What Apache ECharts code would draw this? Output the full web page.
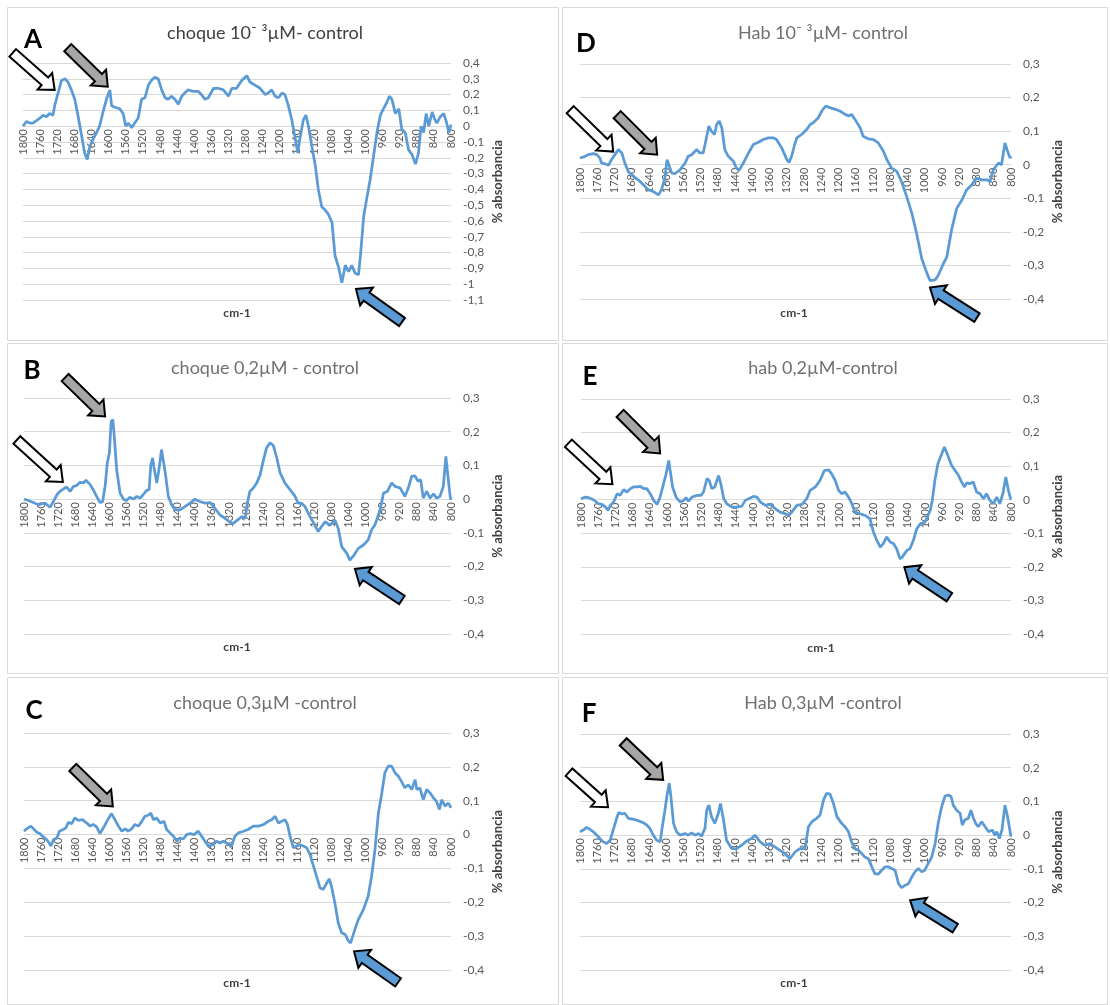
<!DOCTYPE html>
<html><head><meta charset="utf-8">
<script src="https://cdn.jsdelivr.net/npm/echarts@6/dist/echarts.min.js"></script>
<style>html,body{margin:0;padding:0;background:#fff;}#c{width:1110px;height:1005px;}</style>
</head><body><div id="c"></div>
<script>
// ---- data: [wavenumber cm-1, % absorbancia] ----
const choque1e3 = [[1800,0.00],[1792,0.03],[1784,0.02],[1777,0.02],[1761,0.05],[1753,0.07],[1745,0.06],[1738,0.08],[1730,0.07],[1726,0.13],[1720,0.19],[1714,0.25],[1710,0.29],[1702,0.30],[1695,0.28],[1687,0.23],[1679,0.17],[1671,0.06],[1663,-0.06],[1656,-0.17],[1650,-0.21],[1644,-0.13],[1636,-0.08],[1628,-0.04],[1621,0.00],[1613,0.09],[1605,0.17],[1597,0.23],[1593,0.13],[1585,0.12],[1574,0.11],[1566,0.08],[1560,0.00],[1554,0.02],[1546,-0.01],[1539,0.02],[1531,0.05],[1523,0.17],[1515,0.18],[1507,0.26],[1500,0.29],[1492,0.31],[1484,0.30],[1476,0.23],[1468,0.18],[1461,0.17],[1453,0.19],[1445,0.17],[1437,0.14],[1429,0.19],[1422,0.21],[1414,0.23],[1402,0.22],[1390,0.22],[1383,0.20],[1375,0.17],[1367,0.18],[1355,0.24],[1344,0.24],[1332,0.23],[1320,0.19],[1312,0.24],[1301,0.24],[1289,0.29],[1277,0.32],[1270,0.28],[1258,0.26],[1246,0.24],[1234,0.20],[1227,0.21],[1219,0.23],[1211,0.19],[1203,0.18],[1195,0.21],[1188,0.20],[1180,0.13],[1172,0.04],[1164,-0.08],[1158,-0.17],[1153,-0.08],[1145,0.04],[1139,0.07],[1133,0.00],[1125,-0.13],[1117,-0.25],[1110,-0.40],[1102,-0.51],[1094,-0.53],[1086,-0.56],[1078,-0.61],[1071,-0.82],[1063,-0.89],[1055,-0.99],[1047,-0.88],[1039,-0.92],[1032,-0.88],[1024,-0.93],[1016,-0.94],[1011,-0.80],[1004,-0.57],[997,-0.46],[989,-0.34],[981,-0.19],[973,-0.04],[965,0.07],[958,0.11],[950,0.15],[944,0.19],[938,0.17],[930,0.08],[922,0.11],[915,-0.02],[907,-0.04],[899,-0.15],[891,-0.18],[883,-0.24],[876,-0.17],[870,0.00],[864,-0.04],[858,0.08],[852,0.00],[844,0.09],[839,0.05],[833,0.02],[825,0.06],[817,0.08],[811,0.03],[805,-0.04],[800,0.01]];

const choque02 = [[1800,0.0],[1790,-0.004],[1778,-0.01],[1766,-0.017],[1759,-0.014],[1751,-0.012],[1739,-0.024],[1731,-0.007],[1723,0.013],[1716,0.023],[1708,0.03],[1700,0.036],[1692,0.023],[1684,0.038],[1677,0.04],[1669,0.05],[1661,0.048],[1655,0.056],[1645,0.043],[1638,0.028],[1630,0.008],[1622,-0.01],[1616,-0.008],[1610,0.038],[1605,0.107],[1600,0.137],[1596,0.23],[1592,0.236],[1588,0.177],[1583,0.087],[1575,0.018],[1567,0.0],[1560,-0.004],[1552,0.006],[1544,0.0],[1536,0.008],[1528,0.003],[1521,0.013],[1513,0.026],[1507,0.028],[1503,0.102],[1499,0.122],[1496,0.097],[1489,0.048],[1484,0.087],[1478,0.147],[1474,0.147],[1469,0.077],[1462,0.008],[1454,-0.017],[1446,-0.032],[1435,-0.032],[1423,-0.022],[1411,-0.012],[1400,0.0],[1388,-0.007],[1376,-0.012],[1364,-0.01],[1353,-0.027],[1341,-0.047],[1329,-0.057],[1319,-0.067],[1310,-0.072],[1298,-0.06],[1290,-0.052],[1282,-0.057],[1277,-0.012],[1271,0.023],[1263,0.033],[1255,0.048],[1247,0.072],[1240,0.112],[1232,0.152],[1224,0.167],[1216,0.159],[1208,0.122],[1200,0.077],[1189,0.048],[1177,0.028],[1165,0.008],[1158,-0.012],[1150,-0.012],[1142,-0.022],[1130,-0.052],[1119,-0.077],[1111,-0.096],[1103,-0.081],[1095,-0.067],[1083,-0.077],[1072,-0.062],[1064,-0.087],[1056,-0.141],[1044,-0.161],[1037,-0.181],[1027,-0.166],[1017,-0.146],[1005,-0.136],[994,-0.121],[986,-0.091],[978,-0.076],[966,-0.032],[958,0.018],[949,0.023],[939,0.048],[931,0.038],[919,0.033],[908,0.008],[900,0.033],[892,0.068],[884,0.068],[877,0.053],[871,0.058],[865,0.003],[857,0.023],[849,0.003],[841,0.016],[834,0.003],[826,0.008],[818,0.038],[812,0.127],[808,0.077],[802,0.008],[800,-0.002]];

const choque03 = [[1800,0.01],[1794,0.017],[1784,0.025],[1778,0.017],[1770,0.007],[1763,0.003],[1755,-0.007],[1747,-0.015],[1741,-0.025],[1737,-0.034],[1731,-0.015],[1723,-0.01],[1717,0.01],[1708,0.015],[1702,0.02],[1696,0.036],[1688,0.032],[1681,0.049],[1673,0.042],[1663,0.044],[1653,0.034],[1645,0.025],[1638,0.03],[1630,0.023],[1622,0.003],[1614,0.02],[1606,0.039],[1595,0.062],[1587,0.044],[1579,0.025],[1571,0.01],[1563,0.017],[1556,0.01],[1548,0.017],[1540,0.03],[1532,0.025],[1524,0.039],[1517,0.054],[1509,0.057],[1503,0.064],[1497,0.044],[1489,0.049],[1481,0.034],[1472,0.039],[1466,0.015],[1458,0.005],[1450,-0.005],[1442,-0.02],[1435,-0.01],[1427,-0.013],[1419,0.0],[1411,0.003],[1402,0.0],[1392,0.01],[1384,-0.005],[1376,-0.02],[1368,-0.034],[1357,-0.03],[1349,-0.02],[1341,-0.025],[1333,-0.02],[1325,-0.025],[1314,-0.034],[1306,-0.005],[1298,0.005],[1286,0.01],[1275,0.015],[1263,0.025],[1251,0.025],[1240,0.029],[1228,0.039],[1220,0.044],[1212,0.054],[1204,0.034],[1197,0.039],[1189,0.044],[1183,0.03],[1177,-0.005],[1169,-0.039],[1161,-0.034],[1154,-0.03],[1146,-0.034],[1138,-0.039],[1130,-0.059],[1122,-0.093],[1115,-0.123],[1107,-0.157],[1099,-0.162],[1091,-0.143],[1085,-0.131],[1080,-0.152],[1072,-0.202],[1064,-0.261],[1056,-0.29],[1048,-0.295],[1040,-0.315],[1035,-0.32],[1025,-0.28],[1017,-0.251],[1005,-0.221],[994,-0.182],[986,-0.123],[978,-0.044],[970,0.064],[962,0.123],[955,0.182],[947,0.202],[939,0.202],[931,0.182],[923,0.172],[916,0.157],[908,0.138],[900,0.147],[892,0.133],[884,0.162],[880,0.133],[873,0.138],[865,0.103],[857,0.133],[849,0.123],[841,0.108],[834,0.098],[827,0.074],[822,0.103],[814,0.084],[806,0.093],[800,0.079]];

const hab1e3 = [[1800,0.02],[1788,0.025],[1781,0.03],[1769,0.033],[1761,0.03],[1754,0.02],[1750,0.005],[1742,0.003],[1734,-0.002],[1727,0.015],[1719,0.03],[1711,0.045],[1703,0.035],[1696,0.005],[1688,-0.02],[1676,-0.035],[1665,-0.045],[1653,-0.06],[1641,-0.075],[1630,-0.08],[1618,-0.09],[1611,-0.075],[1603,-0.04],[1598,0.015],[1594,0.017],[1587,-0.025],[1580,-0.027],[1568,-0.015],[1556,0.005],[1549,0.025],[1541,0.03],[1529,0.045],[1522,0.035],[1514,0.035],[1506,0.085],[1501,0.115],[1495,0.10],[1488,0.09],[1483,0.12],[1477,0.13],[1471,0.11],[1464,0.045],[1456,0.025],[1444,0.01],[1437,-0.01],[1431,-0.017],[1421,0.005],[1409,0.035],[1398,0.06],[1386,0.067],[1375,0.075],[1363,0.08],[1351,0.08],[1344,0.075],[1332,0.05],[1320,0.015],[1315,0.007],[1309,0.025],[1303,0.055],[1297,0.08],[1286,0.09],[1274,0.105],[1266,0.12],[1259,0.125],[1247,0.14],[1239,0.16],[1230,0.175],[1220,0.17],[1208,0.165],[1197,0.16],[1185,0.15],[1177,0.145],[1170,0.15],[1162,0.135],[1150,0.11],[1143,0.085],[1131,0.077],[1119,0.075],[1108,0.065],[1096,0.04],[1088,0.015],[1077,-0.01],[1065,-0.02],[1054,-0.05],[1042,-0.095],[1030,-0.145],[1019,-0.205],[1007,-0.28],[996,-0.32],[988,-0.345],[976,-0.343],[969,-0.33],[957,-0.295],[949,-0.275],[938,-0.195],[926,-0.13],[914,-0.105],[903,-0.075],[891,-0.06],[880,-0.04],[868,-0.045],[856,-0.045],[849,-0.05],[841,-0.015],[829,0.005],[822,0.0],[814,0.065],[808,0.04],[802,0.02],[800,0.025]];

const hab02 = [[1800,0.003],[1790,0.008],[1782,0.006],[1771,0.0],[1759,-0.012],[1751,-0.014],[1743,-0.022],[1737,-0.032],[1732,-0.017],[1724,-0.007],[1716,0.018],[1709,0.013],[1701,0.03],[1693,0.023],[1685,0.033],[1678,0.038],[1670,0.038],[1662,0.04],[1654,0.033],[1647,0.033],[1639,0.018],[1631,-0.002],[1623,-0.014],[1616,0.008],[1608,0.048],[1602,0.077],[1596,0.117],[1592,0.112],[1587,0.038],[1579,0.008],[1569,-0.007],[1561,-0.002],[1556,0.006],[1550,-0.004],[1542,0.008],[1530,0.013],[1521,0.013],[1515,0.023],[1511,0.018],[1507,0.063],[1502,0.058],[1496,0.033],[1489,0.038],[1480,0.072],[1475,0.048],[1468,0.003],[1461,-0.012],[1449,-0.022],[1438,-0.022],[1426,-0.019],[1418,-0.002],[1410,0.003],[1399,0.01],[1391,0.008],[1383,-0.007],[1371,-0.017],[1360,-0.014],[1348,-0.027],[1337,-0.037],[1325,-0.042],[1317,-0.047],[1310,-0.037],[1298,-0.017],[1286,-0.014],[1275,0.003],[1267,0.028],[1255,0.038],[1244,0.058],[1234,0.087],[1224,0.089],[1217,0.077],[1209,0.058],[1201,0.028],[1194,0.018],[1186,0.023],[1178,0.008],[1170,-0.012],[1163,-0.037],[1151,-0.042],[1139,-0.047],[1128,-0.057],[1120,-0.096],[1112,-0.121],[1104,-0.141],[1097,-0.131],[1089,-0.111],[1081,-0.126],[1073,-0.131],[1066,-0.146],[1058,-0.176],[1053,-0.171],[1042,-0.151],[1035,-0.146],[1027,-0.121],[1019,-0.086],[1011,-0.072],[1000,-0.067],[988,-0.032],[983,-0.002],[977,0.058],[970,0.107],[961,0.137],[955,0.157],[947,0.132],[938,0.102],[930,0.087],[922,0.072],[915,0.053],[908,0.038],[903,0.05],[895,0.048],[888,0.053],[880,0.023],[872,0.018],[864,0.003],[857,0.018],[849,-0.002],[841,-0.012],[833,0.008],[826,-0.012],[818,0.023],[812,0.068],[806,0.028],[801,0.003],[800,0.0]];

const hab03 = [[1800,0.01],[1792,0.015],[1785,0.023],[1777,0.017],[1769,0.01],[1761,0.0],[1754,-0.01],[1746,-0.02],[1738,-0.025],[1730,-0.015],[1723,0.015],[1715,0.05],[1710,0.067],[1703,0.063],[1696,0.065],[1688,0.05],[1676,0.047],[1665,0.043],[1653,0.037],[1645,0.03],[1638,0.02],[1630,0.0],[1622,-0.015],[1614,-0.02],[1609,0.025],[1603,0.074],[1598,0.119],[1593,0.154],[1589,0.114],[1583,0.035],[1576,0.01],[1568,0.0],[1556,0.005],[1549,0.0],[1541,0.007],[1533,0.0],[1525,0.005],[1518,-0.003],[1510,0.02],[1506,0.074],[1501,0.089],[1495,0.055],[1487,0.035],[1479,0.065],[1474,0.094],[1467,0.045],[1460,-0.015],[1448,-0.04],[1437,-0.04],[1425,-0.03],[1413,-0.017],[1402,-0.01],[1394,0.0],[1382,-0.02],[1371,-0.03],[1359,-0.025],[1348,-0.035],[1336,-0.045],[1324,-0.055],[1313,-0.07],[1301,-0.05],[1290,-0.04],[1278,-0.04],[1270,0.025],[1262,0.04],[1251,0.05],[1243,0.06],[1235,0.104],[1228,0.124],[1220,0.122],[1212,0.094],[1204,0.055],[1193,0.035],[1185,0.025],[1177,0.01],[1170,-0.02],[1162,-0.04],[1154,-0.045],[1146,-0.055],[1139,-0.065],[1131,-0.07],[1123,-0.094],[1116,-0.114],[1108,-0.116],[1100,-0.104],[1092,-0.094],[1085,-0.094],[1077,-0.099],[1069,-0.104],[1061,-0.144],[1054,-0.156],[1046,-0.149],[1038,-0.144],[1030,-0.124],[1023,-0.109],[1015,-0.099],[1007,-0.109],[1000,-0.104],[992,-0.084],[984,-0.065],[976,-0.025],[969,0.035],[961,0.084],[953,0.116],[945,0.119],[939,0.114],[934,0.089],[926,0.074],[918,0.065],[913,0.03],[907,0.045],[899,0.05],[893,0.074],[887,0.05],[882,0.035],[876,0.025],[868,0.04],[860,0.025],[852,0.01],[843,0.015],[838,0.0],[833,0.01],[827,-0.01],[821,0.015],[814,0.089],[808,0.055],[802,0.01],[800,-0.005]];

const panelTitles = ['choque 10\u207B \u00B3\u00B5M- control','choque 0,2\u00B5M - control','choque 0,3\u00B5M -control','Hab 10\u207B \u00B3\u00B5M- control','hab 0,2\u00B5M-control','Hab 0,3\u00B5M -control'];
const panelLetters = ['A','B','C','D','E','F'];
const panelSeries = [choque1e3, choque02, choque03, hab1e3, hab02, hab03];
const yMins = [-1.1,-0.4,-0.4,-0.4,-0.4,-0.4];
const yMaxs = [0.4,0.3,0.3,0.3,0.3,0.3];
const xMin = 800, xMax = 1800, xStep = 40, yStep = 0.1;
const xName = 'cm-1', yName = '% absorbancia';

// ---- layout (pixels) ----
const layout = [
  {grid:[23,63,428,237],  box:[7,7,551,333],   title:[265,33],  letter:[33,40],  xname:[237,313], titleColor:'#404040'},
  {grid:[24,398,427,236], box:[7,343,551,330], title:[265,368], letter:[32,371], xname:[237,647], titleColor:'#707070'},
  {grid:[24,733,427,237], box:[7,677,551,327], title:[265,703], letter:[34,711], xname:[237,983], titleColor:'#707070'},
  {grid:[580,64,431,235], box:[562,7,545,333], title:[823,33],  letter:[586,44], xname:[794,313], titleColor:'#707070'},
  {grid:[581,399,430,235],box:[562,343,545,330],title:[823,368],letter:[590,377],xname:[821,648], titleColor:'#707070'},
  {grid:[580,734,431,236],box:[562,677,545,327],title:[823,703],letter:[589,714],xname:[794,983], titleColor:'#707070'}
];
// arrows: panel index, fill, tip in data coords, tail offset in px
const arrows = [
  {p:0,f:'#fff',tip:[1726,0.23],off:[-42,-37]},{p:0,f:'#a6a6a6',tip:[1602,0.25],off:[-40,-39]},{p:0,f:'#5b9bd5',tip:[1022,-1.03],off:[46,33]},
  {p:1,f:'#fff',tip:[1709,0.051],off:[-46,-42]},{p:1,f:'#a6a6a6',tip:[1610,0.245],off:[-40,-39]},{p:1,f:'#5b9bd5',tip:[1025,-0.207],off:[47,31]},
  {p:2,f:'#a6a6a6',tip:[1592,0.083],off:[-40,-39]},{p:2,f:'#5b9bd5',tip:[1027,-0.345],off:[44,31]},
  {p:3,f:'#fff',tip:[1723,0.039],off:[-43,-42]},{p:3,f:'#a6a6a6',tip:[1621,0.03],off:[-40,-40]},{p:3,f:'#5b9bd5',tip:[988,-0.366],off:[47,30]},
  {p:4,f:'#fff',tip:[1727,0.046],off:[-44,-41]},{p:4,f:'#a6a6a6',tip:[1616,0.138],off:[-40,-40]},{p:4,f:'#5b9bd5',tip:[1048,-0.201],off:[45,30]},
  {p:5,f:'#fff',tip:[1735,0.083],off:[-39,-35]},{p:5,f:'#a6a6a6',tip:[1607,0.164],off:[-40,-38]},{p:5,f:'#5b9bd5',tip:[1034,-0.193],off:[45,28]}
];

const FONT = 'Lato, "Liberation Sans", sans-serif';
const fmtY = v => String(Math.round(v*10)/10).replace('.', ',');

const chart = echarts.init(document.getElementById('c'), null, {renderer:'canvas'});
const grids = [], xAxes = [], yAxes = [], series = [];
layout.forEach((L, i) => {
  const h = L.grid[3];
  const zeroFromBottom = h * (0 - yMins[i]) / (yMaxs[i] - yMins[i]);
  grids.push({left:L.grid[0], top:L.grid[1], width:L.grid[2], height:h, containLabel:false});
  xAxes.push({type:'value', gridIndex:i, position:'bottom', offset:-zeroFromBottom, min:xMin, max:xMax, interval:xStep, inverse:true,
    axisLine:{show:true, onZero:false, lineStyle:{color:'#d9d9d9', width:1}},
    axisTick:{show:false}, splitLine:{show:false},
    axisLabel:{rotate:90, margin:3, fontSize:11, fontFamily:FONT, color:'#595959', formatter:v=>String(v), showMinLabel:true, showMaxLabel:true, hideOverlap:false}});
  yAxes.push({type:'value', gridIndex:i, position:'right', min:yMins[i], max:yMaxs[i], interval:yStep,
    axisLine:{show:false, onZero:false}, axisTick:{show:false},
    splitLine:{show:true, lineStyle:{color:'#d9d9d9', width:1}},
    axisLabel:{margin:12, fontSize:12, fontFamily:FONT, color:'#595959', formatter:fmtY},
    name:yName, nameLocation:'middle', nameRotate:90, nameGap:40,
    nameTextStyle:{fontSize:13, fontWeight:'bold', fontFamily:FONT, color:'#404040'}});
  series.push({type:'line', xAxisIndex:i, yAxisIndex:i, data:panelSeries[i], showSymbol:false, symbol:'none',
    lineStyle:{color:'#5b9bd5', width:2.75}, itemStyle:{color:'#5b9bd5'}, z:3, animation:false});
});
chart.setOption({backgroundColor:'#fff', animation:false, grid:grids, xAxis:xAxes, yAxis:yAxes, series:series});

function arrowPoints(tail, tip){
  const dx=tip[0]-tail[0], dy=tip[1]-tail[1], Ln=Math.hypot(dx,dy);
  const ux=dx/Ln, uy=dy/Ln, nx=-uy, ny=ux, h=13, hw=11, sw=5;
  const bx=tip[0]-ux*h, by=tip[1]-uy*h;
  return [[tail[0]+nx*sw,tail[1]+ny*sw],[bx+nx*sw,by+ny*sw],[bx+nx*hw,by+ny*hw],[tip[0],tip[1]],
          [bx-nx*hw,by-ny*hw],[bx-nx*sw,by-ny*sw],[tail[0]-nx*sw,tail[1]-ny*sw]];
}
const graphic = [];
layout.forEach((L, i) => {
  graphic.push({type:'rect', silent:true, z:0, shape:{x:L.box[0]+0.5, y:L.box[1]+0.5, width:L.box[2], height:L.box[3]},
    style:{fill:'none', stroke:'#d9d9d9', lineWidth:1}});
  graphic.push({type:'text', silent:true, z:10, x:L.title[0], y:L.title[1],
    style:{text:panelTitles[i], font:'18px '+FONT, fill:L.titleColor, textAlign:'center', textVerticalAlign:'middle', align:'center', verticalAlign:'middle'}});
  graphic.push({type:'text', silent:true, z:10, x:L.letter[0], y:L.letter[1],
    style:{text:panelLetters[i], font:'bold 26px '+FONT, fill:'#000', textAlign:'center', textVerticalAlign:'middle', align:'center', verticalAlign:'middle'}});
  graphic.push({type:'text', silent:true, z:10, x:L.xname[0], y:L.xname[1],
    style:{text:xName, font:'bold 12px '+FONT, fill:'#404040', textAlign:'center', textVerticalAlign:'middle', align:'center', verticalAlign:'middle'}});
});
arrows.forEach(a => {
  const tip = chart.convertToPixel({gridIndex:a.p}, a.tip);
  const tail = [tip[0]+a.off[0], tip[1]+a.off[1]];
  graphic.push({type:'polygon', silent:true, z:100, shape:{points:arrowPoints(tail, tip)},
    style:{fill:a.f, stroke:'#000', lineWidth:2, lineJoin:'miter'}});
});
chart.setOption({graphic:graphic});
</script></body></html>
